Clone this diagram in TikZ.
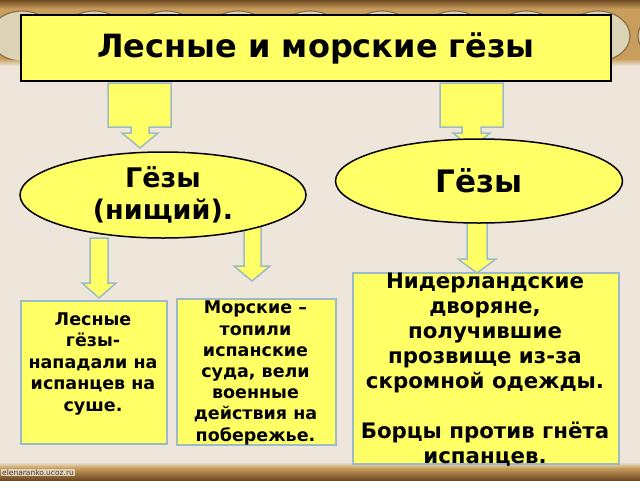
\documentclass[tikz,border=0pt]{standalone}
\usepackage{fontspec}
\setmainfont{DejaVu Sans}
\usetikzlibrary{shapes.geometric}
\definecolor{bg}{HTML}{EEE6DA}
\definecolor{yel}{HTML}{FFFF66}
\definecolor{bord}{HTML}{9DBBC6}
\definecolor{strip}{HTML}{C99E5C}
\definecolor{stripdark}{HTML}{6E4A22}
\definecolor{medal}{HTML}{DCD3B6}
\begin{document}
\begin{tikzpicture}[x=1pt,y=-1pt,
  blockarrow/.style={fill=yel, draw=bord, line width=1.5pt, line join=miter},
  titlebox/.style={draw=black, line width=2pt, fill=yel, minimum width=590pt, minimum height=66pt, inner sep=0pt, font=\bfseries\fontsize{32}{36}\selectfont},
  oval/.style={ellipse, draw=black, line width=1.5pt, fill=yel, inner sep=0pt, align=center},
  infobox/.style={draw=bord, line width=1.5pt, fill=yel, inner sep=0pt, anchor=north west},
  boxtext/.style={align=center, font=\bfseries\fontsize{17.5}{21.5}\selectfont},
]
\useasboundingbox (0,0) rectangle (640,480);
\fill[bg] (0,0) rectangle (640,480);
% top decorative strip
\fill[strip] (0,0) rectangle (640,62);
\foreach \cx in {22,94,166,238,310,382,454,526,598,670} {
  \draw[stripdark!80, line width=1.2pt, fill=medal] (\cx,36) ellipse (32pt and 25pt);
}
\shade[top color=stripdark, bottom color=strip] (0,0) rectangle (640,9);
\shade[top color=strip!80!bg, bottom color=bg] (0,60) rectangle (640,66);
% bottom strip
\shade[top color=bg, bottom color=strip] (0,462) rectangle (640,468);
\shade[top color=strip, bottom color=stripdark] (0,468) rectangle (640,480);
\node[anchor=west, inner sep=1pt, fill=bg!70!strip, font=\fontsize{7.5}{8}\selectfont, text=black!75] (wm) at (1,472.5) {elenaranko.ucoz.ru};
% callout arrows under title
\draw[blockarrow] (108,83) -- (171,83) -- (171,127) -- (149,127) -- (149,133) -- (158,133) -- (140,148) -- (122,133) -- (131,133) -- (131,127) -- (108,127) -- cycle;
\draw[blockarrow] (440,83) -- (503,83) -- (503,127) -- (481,127) -- (481,133) -- (490,133) -- (471.5,148) -- (453,133) -- (462,133) -- (462,127) -- (440,127) -- cycle;
% title
\node[titlebox] (title) at (316,48) {Лесные и морские гёзы};
% lower block arrows
\draw[blockarrow] (90,238) -- (108,238) -- (108,283) -- (116,283) -- (99,298) -- (82,283) -- (90,283) -- cycle;
\draw[blockarrow] (244,226) -- (261,226) -- (261,266) -- (270,266) -- (252,281) -- (234,266) -- (244,266) -- cycle;
\draw[blockarrow] (467,220) -- (487,220) -- (487,259) -- (496,259) -- (477,273) -- (458,259) -- (467,259) -- cycle;
% ellipses
\node[oval, minimum width=286pt, minimum height=86pt, font=\bfseries\fontsize{27}{32}\selectfont] (gl) at (163,195) {Гёзы\\(нищий).};
\node[oval, minimum width=287pt, minimum height=84pt, font=\bfseries\fontsize{31}{34}\selectfont] (gr) at (479,181) {Гёзы};
% boxes
\node[infobox, minimum width=146pt, minimum height=143pt] (b1) at (20,300) {};
\node[boxtext] (t1) at (93,364) {Лесные\\гёзы-\\нападали на\\испанцев на\\суше.};
\node[infobox, minimum width=159pt, minimum height=146pt] (b2) at (176,298) {};
\node[boxtext, font=\bfseries\fontsize{17.5}{21.2}\selectfont] (t2) at (255.5,373) {Морские –\\топили\\испанские\\суда, вели\\военные\\действия на\\побережье.};
\node[infobox, minimum width=266pt, minimum height=191pt] (b3) at (352,272) {};
\node[boxtext, font=\bfseries\fontsize{21.3}{25}\selectfont] (t3) at (485,370) {Нидерландские\\дворяне,\\получившие\\прозвище из-за\\скромной одежды.\\[25pt]Борцы против гнёта\\испанцев.};
\end{tikzpicture}
\end{document}
